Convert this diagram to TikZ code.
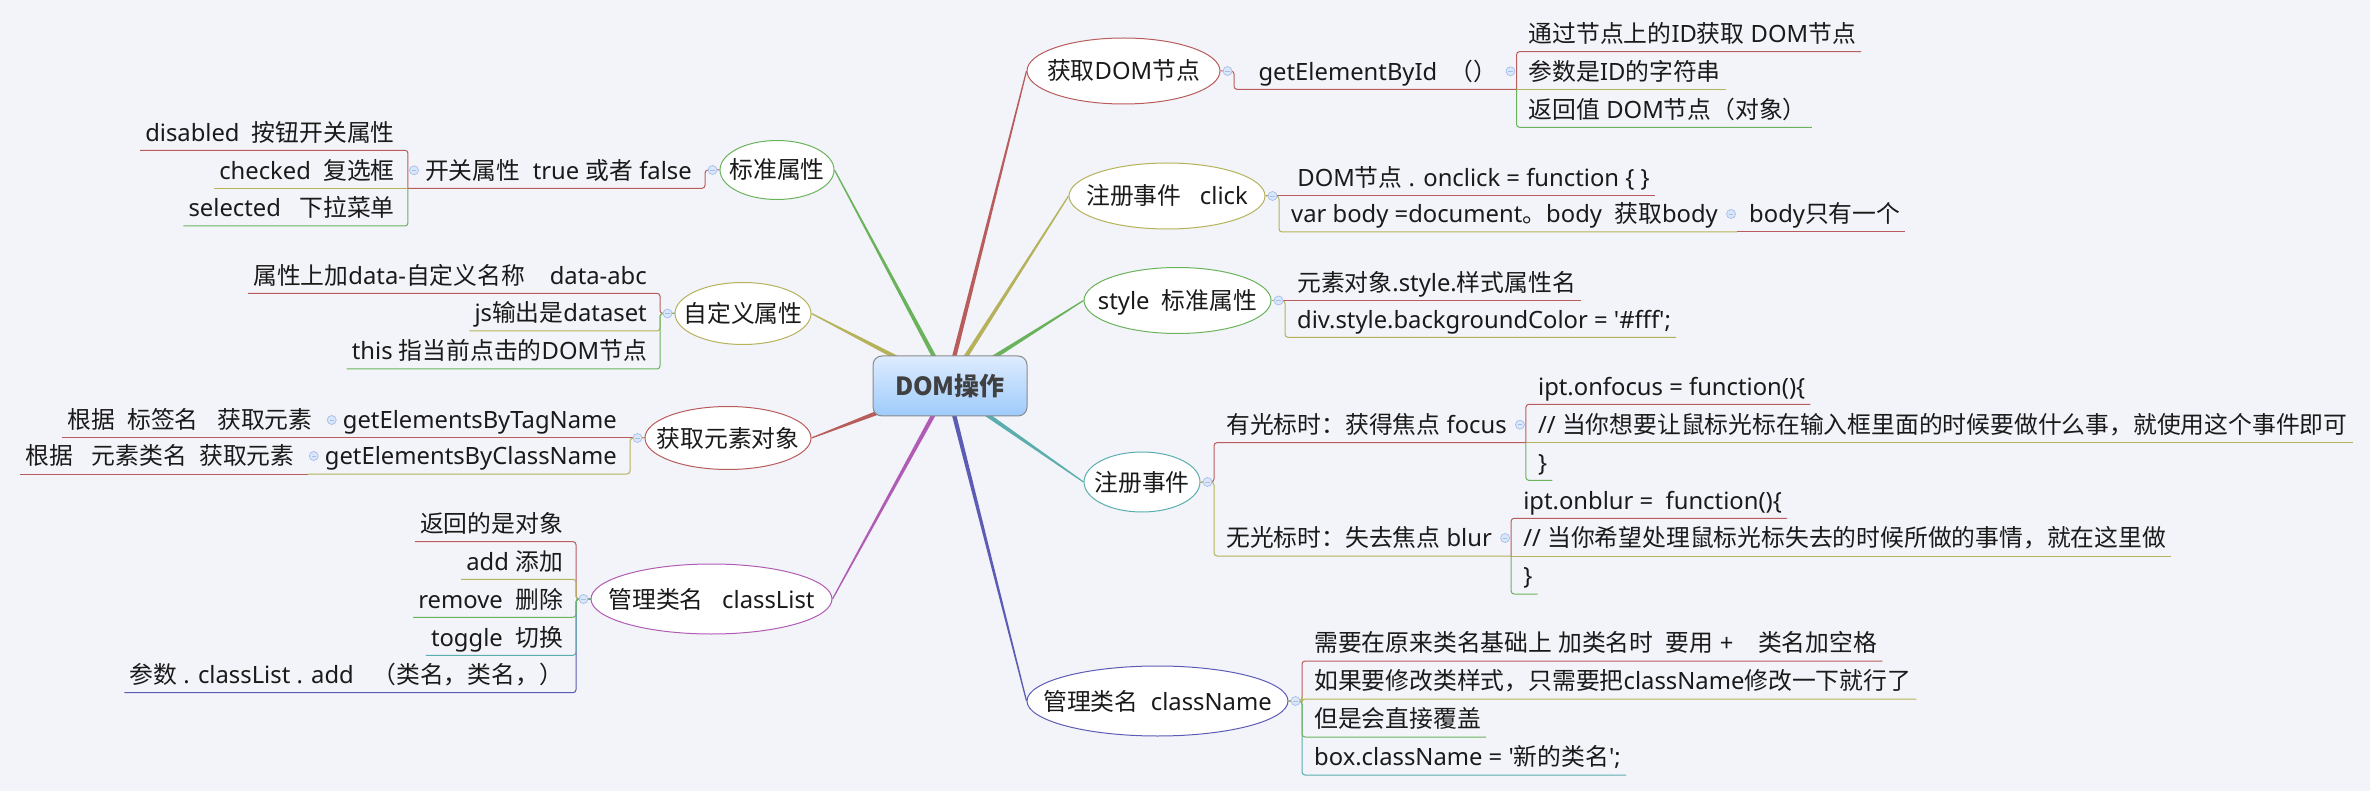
\documentclass[tikz,border=0pt]{standalone}
\usepackage{fontspec}
\setmainfont{Noto Sans}
\newfontfamily\cjkfont{Noto Sans CJK SC}
\XeTeXinterchartokenstate=1
\newXeTeXintercharclass\mmcjk
\count255="2E80
\loop\XeTeXcharclass\count255=\mmcjk\advance\count255 by 1 \ifnum\count255<"A000 \repeat
\count255="FF00
\loop\XeTeXcharclass\count255=\mmcjk\advance\count255 by 1 \ifnum\count255<"FFF0 \repeat
\XeTeXinterchartoks 0 \mmcjk = {\begingroup\cjkfont}
\XeTeXinterchartoks 4095 \mmcjk = {\begingroup\cjkfont}
\XeTeXinterchartoks \mmcjk 0 = {\endgroup}
\XeTeXinterchartoks \mmcjk 4095 = {\endgroup}
\usetikzlibrary{shapes.geometric,calc}
\pgfdeclarelayer{bg}\pgfdeclarelayer{lines}\pgfsetlayers{bg,lines,main}
\definecolor{bgc}{HTML}{F3F4F9}
\definecolor{cR}{HTML}{B85C5C}
\definecolor{cO}{HTML}{B5B25B}
\definecolor{cG}{HTML}{6AB35C}
\definecolor{cT}{HTML}{5CAEAE}
\definecolor{cB}{HTML}{5C5CB5}
\definecolor{cP}{HTML}{B05CB5}
\definecolor{txt}{HTML}{1A1A1A}
\definecolor{knobfill}{HTML}{DAE6FA}
\definecolor{knobline}{HTML}{A6BEEA}
\definecolor{domline}{HTML}{8A8A8A}
\definecolor{domtop}{HTML}{DEECFE}
\definecolor{dombot}{HTML}{9ECBFB}
\definecolor{domtxt}{HTML}{404040}
\newcommand\fs{\fontsize{23.8}{28}\selectfont}
\newcommand\mmbranch[3]{%
  \coordinate (mmS) at ($(#2)!-8pt!(#3)$);
  \fill[#1] ($(mmS)!2.2pt!90:(#3)$) -- ($(mmS)!2.2pt!-90:(#3)$) -- ($(#3)!0.6pt!90:(mmS)$) -- ($(#3)!0.6pt!-90:(mmS)$) -- cycle;}
\tikzset{
  topic/.style={shape=ellipse, draw=#1, fill=white, line width=1pt, inner sep=0pt, text height=21pt, text depth=3pt, font=\fs, text=txt},
  sub/.style={inner xsep=5pt, inner ysep=0pt, text height=21pt, text depth=9pt, font=\fs, text=txt},
  R/.style={sub, anchor=south west, execute at begin node={\hspace*{7pt}}},
  Rp/.style={R, execute at end node={\hspace*{14pt}}},
  L/.style={sub, anchor=south east, execute at end node={\hspace*{8pt}}},
  Lp/.style={L, execute at begin node={\hspace*{12pt}}},
  link/.style={draw=#1, line width=1pt, rounded corners=3pt},
  knob/.style={circle, minimum size=9pt, inner sep=0pt, fill=knobfill, draw=knobline, line width=0.7pt,
    path picture={\draw[knobline, line width=0.9pt] ([xshift=-2.2pt]path picture bounding box.center) -- ([xshift=2.2pt]path picture bounding box.center);}},
}
\begin{document}
\begin{tikzpicture}[x=1pt,y=-1pt]
\useasboundingbox (0,0) rectangle (2370,791);
\begin{pgfonlayer}{bg}
\fill[bgc] (0,0) rectangle (2370,791);
\end{pgfonlayer}

% central topic
\node[draw=domline, line width=1pt, rounded corners=9pt, top color=domtop, bottom color=dombot,
  minimum width=154pt, minimum height=60pt, inner sep=0pt,
  font=\cjkfont\bfseries\fontsize{25}{30}\selectfont, text=domtxt] (dom) at (950,386) {DOM操作};

% main topics
\node[topic=cG, minimum width=114pt, minimum height=59pt] (e1) at (777,170) {\makebox[0pt]{标准属性}};
\node[topic=cO, minimum width=136pt, minimum height=62pt] (e2) at (743,313.5) {\makebox[0pt]{自定义属性}};
\node[topic=cR, minimum width=166pt, minimum height=63pt] (e3) at (728,438) {\makebox[0pt]{获取元素对象}};
\node[topic=cP, minimum width=241pt, minimum height=70pt] (e4) at (711.5,599) {\makebox[0pt]{管理类名\ \ \ classList}};
\node[topic=cR, minimum width=193pt, minimum height=66pt] (e5) at (1123.5,71) {\makebox[0pt]{获取DOM节点}};
\node[topic=cO, minimum width=196pt, minimum height=66pt] (e6) at (1167,196) {\makebox[0pt]{注册事件\ \ \ click}};
\node[topic=cG, minimum width=187pt, minimum height=66pt] (e7) at (1177.5,300.5) {\makebox[0pt]{style\ \ 标准属性}};
\node[topic=cT, minimum width=116pt, minimum height=60pt] (e8) at (1142,482) {\makebox[0pt]{注册事件}};
\node[topic=cB, minimum width=261pt, minimum height=70pt] (e9) at (1157.5,701) {\makebox[0pt]{管理类名\ \ className}};

% start points on the central topic
\coordinate (s1) at ($(dom.north west)+(61,0)$);
\coordinate (s2) at ($(dom.north west)+(20,0)$);
\coordinate (s3) at ($(dom.south west)+(3,-3)$);
\coordinate (s4) at ($(dom.south west)+(60,0)$);
\coordinate (s5) at ($(dom.north west)+(82,0)$);
\coordinate (s6) at ($(dom.north west)+(94,0)$);
\coordinate (s7) at ($(dom.north west)+(124,0)$);
\coordinate (s8) at ($(dom.south west)+(117,0)$);
\coordinate (s9) at ($(dom.south west)+(82,0)$);

\begin{pgfonlayer}{lines}
\mmbranch{cG}{s1}{e1.east}
\mmbranch{cO}{s2}{e2.east}
\mmbranch{cR}{s3}{e3.east}
\mmbranch{cP}{s4}{e4.east}
\mmbranch{cR}{s5}{e5.west}
\mmbranch{cO}{s6}{e6.west}
\mmbranch{cG}{s7}{e7.west}
\mmbranch{cT}{s8}{e8.west}
\mmbranch{cB}{s9}{e9.west}
\end{pgfonlayer}

% ---- left: 标准属性
\node[Lp] (c11) at (705,188.3) {开关属性\ \ true 或者 false};
\node[L] (g111) at ($(c11.south west)+(0,-38)$) {disabled\ \ 按钮开关属性};
\node[L] (g112) at (c11.south west) {checked\ \ 复选框};
\node[L] (g113) at ($(c11.south west)+(0,37.7)$) {selected\ \ \ 下拉菜单};
\draw[link=cR] (e1.west) -- (e1.west -| c11.south east) |- (c11.south west);
\draw[link=cR] (c11.south west) |- (g111.south west);
\draw[link=cO] (c11.south west) -- (g112.south west);
\draw[link=cG] (c11.south west) |- (g113.south west);

% ---- left: 自定义属性
\node[L] (c21) at (660,293.3) {属性上加data-自定义名称\ \ \ \ data-abc};
\node[L] (c22) at (660,331) {js输出是dataset};
\node[L] (c23) at (660,369) {this 指当前点击的DOM节点};
\draw[link=cR] (e2.west) -- (e2.west -| c21.south east) |- (c21.south west);
\draw[link=cO] (e2.west) -- (e2.west -| c22.south east) |- (c22.south west);
\draw[link=cG] (e2.west) -- (e2.west -| c23.south east) |- (c23.south west);

% ---- left: 获取元素对象
\node[Lp] (c31) at (630,438) {getElementsByTagName};
\node[L] (g311) at (c31.south west) {根据\ \ 标签名\ \ \ 获取元素};
\node[Lp] (c32) at (630,474) {getElementsByClassName};
\node[L] (g321) at (c32.south west) {根据\ \ \ 元素类名\ \ 获取元素};
\draw[link=cR] (e3.west) -- (c31.south west);
\draw[link=cO] (e3.west) -- (e3.west -| c32.south east) |- (c32.south west);
\draw[link=cR] (c31.south west) -- (g311.south west);
\draw[link=cR] (c32.south west) -- (g321.south west);

% ---- left: 管理类名 classList
\node[L] (c41) at (576,541.7) {返回的是对象};
\node[L] (c42) at (576,579.3) {add 添加};
\node[L] (c43) at (576,617.3) {remove\ \ 删除};
\node[L] (c44) at (576,655.3) {toggle\ \ 切换};
\node[L] (c45) at (576,692.7) {参数 . classList . add\ \ \ （类名，类名，）};
\draw[link=cR] (e4.west) -- (e4.west -| c41.south east) |- (c41.south west);
\draw[link=cO] (e4.west) -- (e4.west -| c42.south east) |- (c42.south west);
\draw[link=cB] (e4.west) -- (e4.west -| c45.south east) |- (c45.south west);
\draw[link=cT] (e4.west) -- (e4.west -| c44.south east) |- (c44.south west);
\draw[link=cG] (e4.west) -- (e4.west -| c43.south east) |- (c43.south west);

% ---- right: 获取DOM节点
\node[Rp] (c51) at (1234,89.3) {\ \ getElementById\ \ （）};
\node[R] (g511) at ($(c51.south east)+(0,-37.6)$) {通过节点上的ID获取 DOM节点};
\node[R] (g512) at (c51.south east) {参数是ID的字符串};
\node[R] (g513) at ($(c51.south east)+(0,38)$) {返回值 DOM节点（对象）};
\draw[link=cR] (e5.east) -- (e5.east -| c51.south west) |- (c51.south east);
\draw[link=cR] (c51.south east) |- (g511.south east);
\draw[link=cO] (c51.south east) -- (g512.south east);
\draw[link=cG] (c51.south east) |- (g513.south east);

% ---- right: 注册事件 click
\node[R] (c61) at (1279,196) {\ DOM节点 . onclick = function \{ \}};
\node[Rp] (c62) at (1279,232) {var body =document。body\ \ 获取body};
\node[R] (g621) at (c62.south east) {body只有一个};
\draw[link=cR] (e6.east) -- (c61.south east);
\draw[link=cO] (e6.east) -- (e6.east -| c62.south west) |- (c62.south east);
\draw[link=cR] (c62.south east) -- (g621.south east);

% ---- right: style 标准属性
\node[R] (c71) at (1285,300.5) {元素对象.style.样式属性名};
\node[R] (c72) at (1285,337.3) {div.style.backgroundColor = \textquotesingle\#fff\textquotesingle;};
\draw[link=cR] (e7.east) -- (c71.south east);
\draw[link=cO] (e7.east) -- (e7.east -| c72.south west) |- (c72.south east);

% ---- right: 注册事件
\node[Rp] (c81) at (1214,442.7) {有光标时：获得焦点 focus};
\node[R] (g811) at ($(c81.south east)+(0,-38.4)$) {ipt.onfocus = function()\{};
\node[R] (g812) at (c81.south east) {// 当你想要让鼠标光标在输入框里面的时候要做什么事，就使用这个事件即可};
\node[R] (g813) at ($(c81.south east)+(0,37.7)$) {\}};
\node[Rp] (c82) at (1214,556) {无光标时：失去焦点 blur};
\node[R] (g821) at ($(c82.south east)+(0,-37.7)$) {ipt.onblur =\ \ function()\{};
\node[R] (g822) at (c82.south east) {// 当你希望处理鼠标光标失去的时候所做的事情，就在这里做};
\node[R] (g823) at ($(c82.south east)+(0,38)$) {\}};
\draw[link=cR] (e8.east) -- (e8.east -| c81.south west) |- (c81.south east);
\draw[link=cO] (e8.east) -- (e8.east -| c82.south west) |- (c82.south east);
\draw[link=cR] (c81.south east) |- (g811.south east);
\draw[link=cO] (c81.south east) -- (g812.south east);
\draw[link=cG] (c81.south east) |- (g813.south east);
\draw[link=cR] (c82.south east) |- (g821.south east);
\draw[link=cO] (c82.south east) -- (g822.south east);
\draw[link=cG] (c82.south east) |- (g823.south east);

% ---- right: 管理类名 className
\node[R] (c91) at (1302,661) {需要在原来类名基础上 加类名时\ \ 要用 +\ \ \ \ 类名加空格};
\node[R] (c92) at (1302,699) {如果要修改类样式，只需要把className修改一下就行了};
\node[R] (c93) at (1302,737) {但是会直接覆盖};
\node[R] (c94) at (1302,775) {box.className = \textquotesingle 新的类名\textquotesingle;};
\draw[link=cR] (e9.east) -- (e9.east -| c91.south west) |- (c91.south east);
\draw[link=cT] (e9.east) -- (e9.east -| c94.south west) |- (c94.south east);
\draw[link=cG] (e9.east) -- (e9.east -| c93.south west) |- (c93.south east);
\draw[link=cO] (e9.east) -- (e9.east -| c92.south west) |- (c92.south east);

% ---- collapse knobs
\node[knob] (k1) at ($(e1.west)+(-7,0)$) {};
\node[knob] (k2) at ($(e2.west)+(-7,0)$) {};
\node[knob] (k3) at ($(e3.west)+(-7,0)$) {};
\node[knob] (k4) at ($(e4.west)+(-7,0)$) {};
\node[knob] (k5) at ($(e5.east)+(7,0)$) {};
\node[knob] (k6) at ($(e6.east)+(7,0)$) {};
\node[knob] (k7) at ($(e7.east)+(7,0)$) {};
\node[knob] (k8) at ($(e8.east)+(7,0)$) {};
\node[knob] (k9) at ($(e9.east)+(7,0)$) {};
\node[knob] (k11) at ($(c11.south west)+(6,-18)$) {};
\node[knob] (k31) at ($(c31.south west)+(6,-18)$) {};
\node[knob] (k32) at ($(c32.south west)+(6,-18)$) {};
\node[knob] (k51) at ($(c51.south east)+(-6,-18)$) {};
\node[knob] (k62) at ($(c62.south east)+(-6,-18)$) {};
\node[knob] (k81) at ($(c81.south east)+(-6,-18)$) {};
\node[knob] (k82) at ($(c82.south east)+(-6,-18)$) {};
\end{tikzpicture}
\end{document}
